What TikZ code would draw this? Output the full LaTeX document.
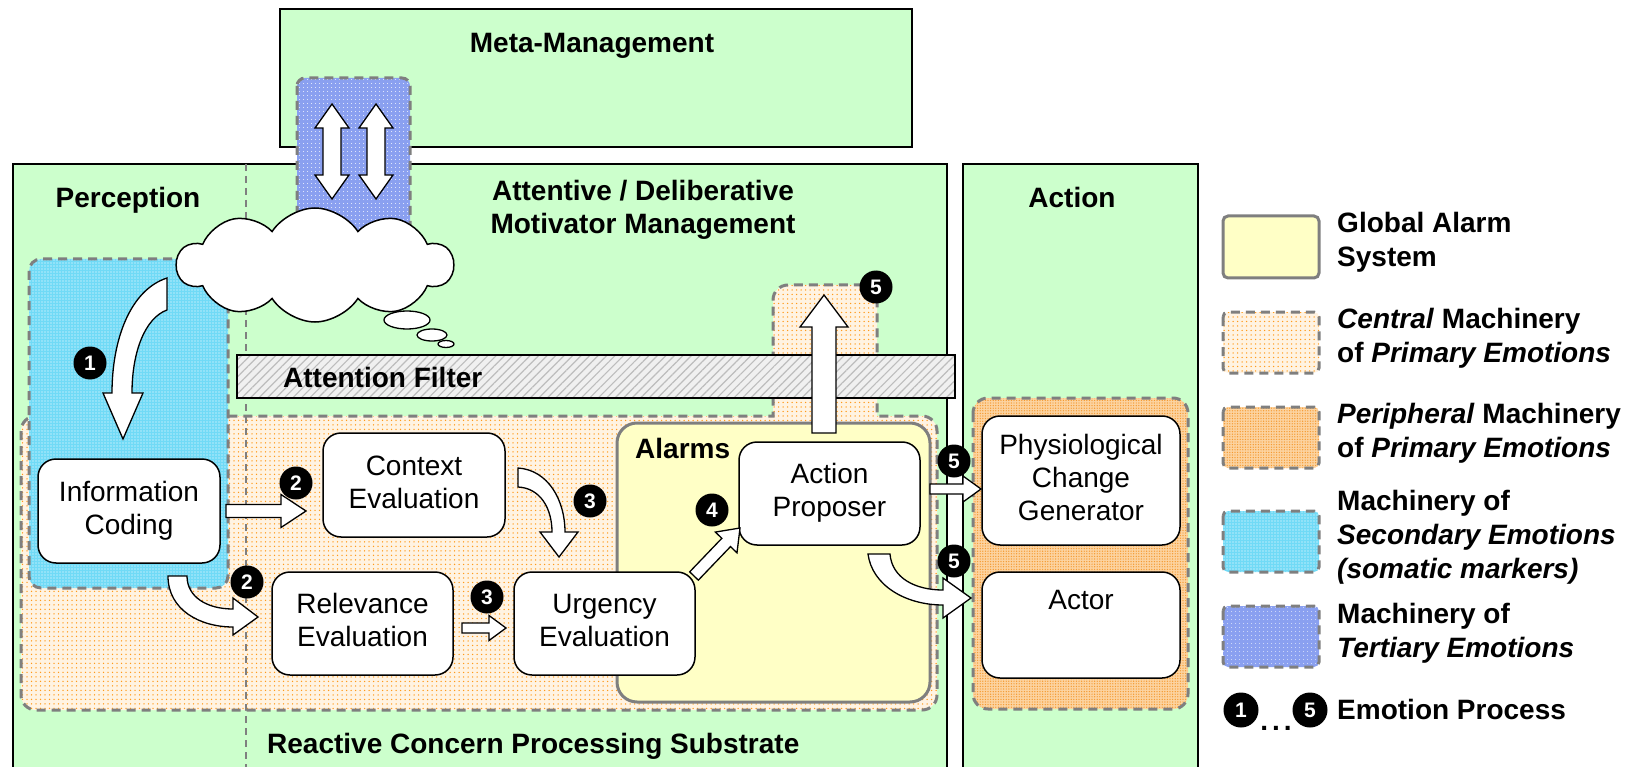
\documentclass[tikz,border=0pt]{standalone}
\usepackage{fontspec}
\setmainfont{Liberation Sans}
\usetikzlibrary{shapes.symbols,patterns.meta,calc}
\definecolor{grn}{HTML}{CCFFCC}
\definecolor{dgray}{HTML}{7F7F7F}
\definecolor{cfill}{HTML}{FFF3E2}
\definecolor{cdot}{HTML}{FF9A1A}
\definecolor{pfill}{HTML}{FCD3A0}
\definecolor{pdot}{HTML}{F59A30}
\definecolor{sfill}{HTML}{70DAF6}
\definecolor{tfill}{HTML}{8AA0F0}
\definecolor{afill}{HTML}{FFFFC6}
\definecolor{ffill}{HTML}{F0F0F0}
\definecolor{fline}{HTML}{BDBDBD}
\newcommand\mytxt{\fontsize{28}{33}\selectfont}
\newcommand\myttl{\fontsize{28}{33}\selectfont\bfseries}
\newcommand\mylgd{\fontsize{28}{34}\selectfont\bfseries}
\newcommand\mybdg{\fontsize{21}{21}\selectfont\bfseries}
\newcommand\blockarr[7]{%
 \pgfmathsetmacro\bdx{#3-(#1)}%
 \pgfmathsetmacro\bdy{#4-(#2)}%
 \pgfmathsetmacro\blen{veclen(\bdx,\bdy)}%
 \pgfmathsetmacro\bang{atan2(\bdy,\bdx)}%
 \begin{scope}[shift={(#1,#2)},rotate=-\bang]
 \draw[barrow] (0,-#5) -- ({\blen-#7},-#5) -- ({\blen-#7},-#6) -- (\blen,0) -- ({\blen-#7},#6) -- ({\blen-#7},#5) -- (0,#5) -- cycle;
 \end{scope}}
\tikzset{
 layer/.style={draw=black, line width=1.5pt, fill=grn},
 dashbox/.style={draw=dgray, line width=3pt, dash pattern=on 9pt off 6pt},
 central/.style={preaction={fill=cfill}, pattern={Dots[distance=4.5pt,radius=0.75pt]}, pattern color=cdot},
 periph/.style={preaction={fill=pfill}, pattern={Dots[distance=2.6pt,radius=0.7pt]}, pattern color=pdot},
 second/.style={preaction={fill=sfill}, pattern={Dots[distance=3pt,radius=0.6pt]}, pattern color=white},
 tert/.style={preaction={fill=tfill}, pattern={Dots[distance=4pt,radius=0.6pt]}, pattern color=white},
 wbox/.style={draw=black, line width=1.5pt, fill=white, rounded corners=18pt, align=center, font=\mytxt, inner sep=0pt},
 badge/.style={circle, fill=black, text=white, font=\mybdg, inner sep=0pt, minimum size=33pt},
 barrow/.style={draw=black, line width=1.3pt, fill=white, line join=miter},
 ttl/.style={font=\myttl, inner sep=0pt},
 lgd/.style={font=\mylgd, inner sep=0pt, align=left, anchor=west},
}
\begin{document}
\begin{tikzpicture}[x=1pt,y=-1pt]
\useasboundingbox (0,0) rectangle (1635,767);
\begin{scope}
\clip (0,0) rectangle (1635,767);
% layers
\draw[layer] (280,9) rectangle (912,147);
\draw[layer] (13,164) rectangle (947,790);
\draw[layer] (963,164) rectangle (1198,790);
\draw[dgray, line width=1.5pt, dash pattern=on 7pt off 5pt] (246,164) -- (246,790);
\end{scope}
% tertiary machinery
\path[tert, dashbox, rounded corners=8pt] (297,78) rectangle (410,240);
\draw[barrow] (332,104) -- (349,128) -- (341,128) -- (341,175) -- (349,175) -- (332,199) -- (315,175) -- (323,175) -- (323,128) -- (315,128) -- cycle;
\draw[barrow] (376,104) -- (393,128) -- (385,128) -- (385,175) -- (393,175) -- (376,199) -- (359,175) -- (367,175) -- (367,128) -- (359,128) -- cycle;
% central machinery
\path[central, dashbox] (21,560) [rounded corners=15pt] -- (21,416) [sharp corners] -- (773,416) [rounded corners=15pt] -- (773,285) -- (877,285) [sharp corners] -- (877,416) [rounded corners=15pt] -- (937,416) -- (937,710) -- (21,710) -- cycle;
\draw[dgray, line width=1.5pt, dash pattern=on 7pt off 5pt] (246,416) -- (246,710);
% secondary machinery
\path[second, dashbox, rounded corners=12pt] (29,259) rectangle (228,588);
% cloud
\node[cloud, draw=black, line width=1.5pt, fill=white, cloud puffs=10, cloud puff arc=115, aspect=2.5, minimum width=276pt, minimum height=114pt, inner sep=0pt] (cloud) at (315,265) {};
\draw[black, line width=1.3pt, fill=white] (407,320) ellipse [x radius=23, y radius=9];
\draw[black, line width=1.3pt, fill=white] (432,335) ellipse [x radius=15, y radius=6];
\draw[black, line width=1.3pt, fill=white] (446,344) ellipse [x radius=8, y radius=3.5];
% attention filter
\path[preaction={fill=ffill}, pattern={Lines[angle=45,distance=6pt,line width=1.2pt]}, pattern color=fline, draw=black, line width=1.5pt] (237,355) rectangle (955,398);
\node[ttl, anchor=base west] (tfilter) at (283,387) {Attention Filter};
% alarms
\draw[draw=dgray, line width=3pt, fill=afill, rounded corners=20pt] (617,423) rectangle (930,702);
\node[ttl, anchor=base west] (talarm) at (635,458) {Alarms};
% peripheral
\path[periph, dashbox, rounded corners=15pt] (973,398) rectangle (1188,709);
% boxes
\node[wbox, minimum width=182pt, minimum height=104pt] (info) at (129,511) {\strut Information\\Coding\strut};
\node[wbox, minimum width=182pt, minimum height=104pt] (ctx) at (414,485) {\strut Context\\Evaluation\strut};
\node[wbox, minimum width=181pt, minimum height=103pt] (rel) at (362.5,623.5) {\strut Relevance\\Evaluation\strut};
\node[wbox, minimum width=181pt, minimum height=103pt] (urg) at (604.5,623.5) {\strut Urgency\\Evaluation\strut};
\node[wbox, minimum width=181pt, minimum height=103pt] (prop) at (829.5,493.5) {\strut Action\\Proposer\strut};
\node[wbox, minimum width=198pt, minimum height=129pt] (phys) at (1081,480.5) {\strut Physiological\\Change\\Generator\strut};
\node[wbox, minimum width=198pt, minimum height=106pt] (actor) at (1081,625) {};
\node[font=\mytxt, inner sep=0pt, anchor=base] (tactor) at ($(actor.north)+(0,38)$) {Actor};
% arrows
\draw[barrow] (167,278) .. controls (130,290) and (112,340) .. (112,393) -- (103,393) -- (123,439) -- (143,393) -- (132,393) .. controls (132,352) and (145,318) .. (167,310) -- cycle;
\draw[barrow] (168,576) .. controls (168,610) and (200,627) .. (233,627) -- (233,635) -- (258,617) -- (233,598) -- (233,609) .. controls (207,609) and (187,597) .. (187,576) -- cycle;
\draw[barrow] (518,468) .. controls (548,470) and (565,500) .. (565,532) -- (578,532) -- (559,557) -- (540,532) -- (552,532) .. controls (552,508) and (540,488) .. (518,487) -- cycle;
\draw[barrow] (868,554) .. controls (872,585) and (905,605) .. (943,605) -- (943,618) -- (971,598) -- (943,578) -- (943,590) .. controls (915,590) and (892,578) .. (890,554) -- cycle;
\blockarr{226}{511}{306}{511}{6.5}{16.5}{25}
\blockarr{462}{628}{506}{628}{5}{12.5}{17}
\blockarr{694}{576}{740}{528}{6}{15}{20}
\blockarr{930}{489}{981}{489}{5}{13}{18}
\draw[barrow] (812,433) -- (812,327) -- (800,327) -- (824,295) -- (848,327) -- (836,327) -- (836,433) -- cycle;
% badges
\node[badge] (b1) at (90,363) {1};
\node[badge] (b2a) at (296,483) {2};
\node[badge] (b2b) at (247,582) {2};
\node[badge] (b3a) at (590,501) {3};
\node[badge] (b3b) at (487,597) {3};
\node[badge] (b4) at (712,510) {4};
\node[badge] (b5a) at (876,287) {5};
\node[badge] (b5b) at (954,461) {5};
\node[badge] (b5c) at (954,561) {5};
% titles
\node[ttl, anchor=base] (tmeta) at (592,53) {Meta-Management};
\node[ttl, anchor=base] (tperc) at (128,208) {Perception};
\node[ttl, align=center] (tatt) at (643,210) {\strut Attentive / Deliberative\\Motivator Management\strut};
\node[ttl, anchor=base] (tact) at (1072,208) {Action};
\node[ttl, anchor=base west] (treact) at (267,753) {Reactive Concern Processing Substrate};
% legend
\draw[draw=dgray, line width=3pt, fill=afill, rounded corners=5pt] (1223,216) rectangle (1319,278);
\path[central, dashbox, rounded corners=5pt] (1223,312) rectangle (1319,373);
\path[periph, dashbox, rounded corners=5pt] (1223,407) rectangle (1319,468);
\path[second, dashbox, rounded corners=5pt] (1223,511) rectangle (1319,572);
\path[tert, dashbox, rounded corners=5pt] (1223,606) rectangle (1319,667);
\node[lgd] (l1) at (1337,243.2) {\strut Global Alarm\\System\strut};
\node[lgd] (l2) at (1337,338.2) {\strut\textit{Central} Machinery\\of \textit{Primary Emotions}\strut};
\node[lgd] (l3) at (1337,433.2) {\strut\textit{Peripheral} Machinery\\of \textit{Primary Emotions}\strut};
\node[lgd] (l4) at (1337,537.2) {\strut Machinery of\\\textit{Secondary Emotions}\\\textit{(somatic markers)}\strut};
\node[lgd] (l5) at (1337,633.2) {\strut Machinery of\\\textit{Tertiary Emotions}\strut};
\node[badge, minimum size=35pt] (lb1) at (1241,710) {1};
\node[badge, minimum size=35pt] (lb5) at (1310,710) {5};
\node[ttl, anchor=base] (ldots) at (1276,730) {.\kern4pt.\kern4pt.};
\node[ttl, anchor=base west] (l6) at (1337,719) {Emotion Process};
\end{tikzpicture}
\end{document}
